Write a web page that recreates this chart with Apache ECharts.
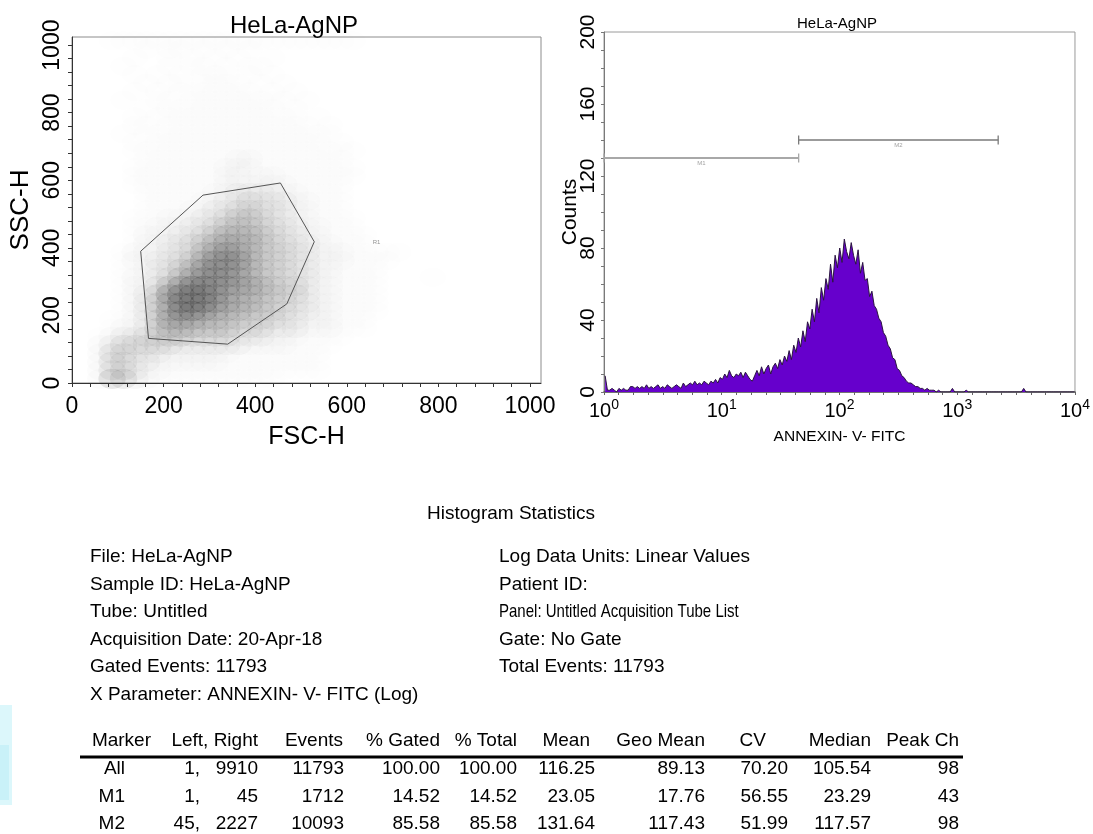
<!DOCTYPE html>
<html>
<head>
<meta charset="utf-8">
<script src="https://cdn.jsdelivr.net/npm/echarts@6/dist/echarts.min.js"></script>
<style>html,body{margin:0;padding:0;background:#fff}#c{width:1093px;height:834px}</style>
</head>
<body>
<div id="c"></div>
<script>
// ---------------- data ----------------
const scatterTitle = 'HeLa-AgNP';
const histTitle = 'HeLa-AgNP';
const scatterXName = 'FSC-H';
const scatterYName = 'SSC-H';
const histXName = 'ANNEXIN- V- FITC';
const histYName = 'Counts';
const scatterMax = 1024;          // channel range of FSC / SSC
const scatterLabelStep = 200;     // labelled tick step
const histDecades = 4;            // 10^0 .. 10^4
const histCountMax = 200;

// FSC-H / SSC-H event density.
// one character per 25x25 channel cell (0 = empty ... 9 = densest), top row = SSC 1000-1024
const cellSize = 25;
const densityRows = [
  "0001111111111111111111111",
  "00000010110101010",
  "00000100101010100100",
  "00001000101101011",
  "00000101010111010100",
  "00000010110111101010",
  "00000101011111110101",
  "000010011011111111101",
  "00000010111111111101",
  "0000010111111111111101",
  "00000110111111111111101",
  "00001011111111111111111",
  "000001011111111111111101",
  "0000011111111111111111111",
  "000000111111112211111111",
  "0000011111111222111111111",
  "0000011111111221221111111",
  "000001111111122222211111",
  "000000111111223333221111",
  "000000111112233433322111",
  "000000111122334443322111",
  "0000011122233455433221111",
  "0000011222334555443322111",
  "00000122233456665433221111",
  "00000122334567665443322111",
  "00001222334678765443322211111",
  "0000122334578886544332221111",
  "000011233568887654433221111",
  "00001223467888765443322111100001",
  "000012246899887765443221111",
  "000012358999876655443221111",
  "000012357999876654433221111",
  "000012357998766554433221111",
  "00011235777665544433222111",
  "00012235666555444333222111",
  "001233445544443332221111",
  "00234444433333322221111",
  "0024433322222211111111",
  "0024433222222111111111",
  "0024432211111111111111",
  "002653211111111111"
];

// R1 gate polygon (FSC, SSC)
const gateFSC = [150, 286, 455, 529, 469, 340, 167];
const gateSSC = [390, 556, 592, 418, 234, 115, 132];
const gateName = 'R1';
const gateLabelFSC = 665;
const gateLabelSSC = 417;

// ANNEXIN-V-FITC histogram, counts per group of 5 channels (256 channels per decade)
const channelsPerBin = 5;
const channelsPerDecade = 256;
const histCounts = [
  9,1,1,2,1,0,2,1,2,1,
  1,3,3,2,3,2,3,2,4,2,
  3,2,3,4,2,3,2,4,3,2,
  3,4,3,2,5,3,4,5,4,6,
  4,5,4,6,5,4,6,5,7,5,
  8,7,10,8,12,9,8,10,9,11,
  8,11,9,7,6,9,12,9,14,10,
  13,15,10,14,16,13,18,15,20,17,
  23,18,26,22,30,25,34,28,39,35,
  46,39,52,44,58,51,63,57,71,61,
  76,69,80,72,85,78,74,83,76,71,
  79,66,72,62,63,53,56,48,46,41,
  39,33,31,26,24,19,18,13,12,9,
  8,6,5,5,4,3,3,2,2,1,
  2,1,1,1,0,1,0,0,0,0,
  0,2,0,0,0,0,0,1,0,0,
  0,0,0,0,0,0,0,0,0,0,
  0,0,0,0,0,0,0,0,0,0,
  0,0,2,0,0,0,0,0,0,0,
  0,0,0,0,0,0,0,0,0,0,
  0,0,0,0,0
];

// histogram markers
const markerNames = ['M1', 'M2'];
const markerLeft = [1, 45];
const markerRight = [45, 2227];
const markerCounts = [130, 140];

// statistics text
const statsTitle = 'Histogram Statistics';
const infoLeft = ['File: HeLa-AgNP', 'Sample ID: HeLa-AgNP', 'Tube: Untitled',
  'Acquisition Date: 20-Apr-18', 'Gated Events: 11793', 'X Parameter: ANNEXIN- V- FITC (Log)'];
const infoRight = ['Log Data Units: Linear Values', 'Patient ID:', 'Panel: Untitled Acquisition Tube List',
  'Gate: No Gate', 'Total Events: 11793'];
const tableHeader = ['Marker', 'Left, Right', 'Events', '% Gated', '% Total', 'Mean', 'Geo Mean', 'CV', 'Median', 'Peak Ch'];
const tableMarker = ['All', 'M1', 'M2'];
const tableLeft = [1, 1, 45];
const tableRight = [9910, 45, 2227];
const tableEvents = [11793, 1712, 10093];
const tableGated = ['100.00', '14.52', '85.58'];
const tableTotal = ['100.00', '14.52', '85.58'];
const tableMean = ['116.25', '23.05', '131.64'];
const tableGeoMean = ['89.13', '17.76', '117.43'];
const tableCV = ['70.20', '56.55', '51.99'];
const tableMedian = ['105.54', '23.29', '117.57'];
const tablePeak = [98, 43, 98];

// ---------------- layout / style ----------------
const SANS = "'Liberation Sans',Arial,Helvetica,sans-serif";
const SC = {left: 72, top: 37, width: 469, height: 346};
const HG = {left: 604, top: 32, width: 478, height: 360};

const chart = echarts.init(document.getElementById('c'), null, {renderer: 'canvas'});

// density cells -> soft scatter blobs
const nCols = Math.ceil(scatterMax / cellSize) + 1;
const cellW = SC.width / scatterMax * cellSize;
const cellH = SC.height / scatterMax * cellSize;
const blobScale = 2.4;
const levelOpacity = [0, 0.004, 0.011, 0.026, 0.046, 0.066, 0.087, 0.11, 0.135, 0.165];
const levelData = levelOpacity.map(() => []);
densityRows.forEach((row, k) => {
  const r = densityRows.length - 1 - k;
  const s = row.padEnd(nCols, '0').slice(0, nCols);
  for (let c = 0; c < s.length; c++) {
    const L = +s[c];
    if (L > 0) levelData[L].push([c * cellSize + cellSize / 2, r * cellSize + cellSize / 2]);
  }
});
const densitySeries = [];
levelData.forEach((d, L) => {
  if (L === 0) return;
  densitySeries.push({
    type: 'scatter', xAxisIndex: 0, yAxisIndex: 0, data: d, silent: true, z: 2,
    symbol: 'circle', symbolSize: [cellW * blobScale, cellH * blobScale],
    itemStyle: {color: '#000', opacity: levelOpacity[L]}
  });
});

const gateData = gateFSC.map((x, i) => [x, gateSSC[i]]);
gateData.push([gateFSC[0], gateSSC[0]]);

const histData = histCounts.map((v, i) => [(i * channelsPerBin + channelsPerBin / 2) / channelsPerDecade, v]);

const markerSeries = [];
markerNames.forEach((n, i) => {
  const a = Math.log10(markerLeft[i]), b = Math.log10(markerRight[i]);
  const col = i === 0 ? '#a8a8a8' : '#7a7a7a';
  markerSeries.push({
    type: 'line', xAxisIndex: 1, yAxisIndex: 1, silent: true, z: 6,
    data: [[a, markerCounts[i]], [b, markerCounts[i]]],
    symbol: 'rect', symbolSize: [1.3, 9], showSymbol: true,
    itemStyle: {color: col}, lineStyle: {color: col, width: i === 0 ? 2.2 : 1.4}
  });
  markerSeries.push({
    type: 'scatter', xAxisIndex: 1, yAxisIndex: 1, silent: true, z: 6,
    data: [[(a + b) / 2, markerCounts[i]]], symbolSize: 0.1,
    label: {show: true, formatter: n, position: 'bottom', distance: 2, fontSize: 6, color: '#888', fontFamily: SANS}
  });
});

const axisDark = '#333';
const scatterAxisLabel = {fontSize: 23, fontFamily: SANS, color: '#000', showMaxLabel: false,
  formatter: v => (v % scatterLabelStep === 0 ? String(v) : '')};

// ---------------- graphic text ----------------
const g = [];
function txt(text, x, y, align, size, sx) {
  g.push({type: 'text', silent: true, x: x, y: y, scaleX: sx || 1, scaleY: 1, originX: 0, originY: 0,
    style: {text: text, x: 0, y: 0, fill: '#000', fontSize: size || 19, fontFamily: SANS,
      align: align || 'left', verticalAlign: 'middle', textAlign: align || 'left', textVerticalAlign: 'middle'}});
}
// left edge cyan artefact
g.push({type: 'rect', silent: true, shape: {x: 0, y: 705, width: 12, height: 100}, style: {fill: '#dcf7fb'}});
g.push({type: 'rect', silent: true, shape: {x: 0, y: 745, width: 9, height: 55}, style: {fill: '#c9f1f8'}});

txt(statsTitle, 511, 514, 'center');
infoLeft.forEach((t, i) => txt(t, 90, 557 + i * 27.5, 'left'));
infoRight.forEach((t, i) => txt(t, 499, 557 + i * 27.5, 'left', 19, i === 2 ? 0.79 : 1));

const headerRight = [151, 258, 343, 440, 517, 590, 705, 766, 871, 959];
tableHeader.forEach((t, i) => txt(t, headerRight[i], 741, 'right'));
g.push({type: 'line', silent: true, shape: {x1: 80, y1: 757, x2: 963, y2: 757}, style: {stroke: '#000', lineWidth: 3}});
const colRight = {marker: 125, left: 200, right: 258, events: 344, gated: 440, total: 517, mean: 595, geo: 705, cv: 788, median: 871, peak: 959};
tableMarker.forEach((m, i) => {
  const y = 769 + i * 27.5;
  txt(m, colRight.marker, y, 'right');
  txt(tableLeft[i] + ',', colRight.left, y, 'right');
  txt(String(tableRight[i]), colRight.right, y, 'right');
  txt(String(tableEvents[i]), colRight.events, y, 'right');
  txt(tableGated[i], colRight.gated, y, 'right');
  txt(tableTotal[i], colRight.total, y, 'right');
  txt(tableMean[i], colRight.mean, y, 'right');
  txt(tableGeoMean[i], colRight.geo, y, 'right');
  txt(tableCV[i], colRight.cv, y, 'right');
  txt(tableMedian[i], colRight.median, y, 'right');
  txt(String(tablePeak[i]), colRight.peak, y, 'right');
});

// ---------------- option ----------------
const option = {
  animation: false,
  backgroundColor: '#fff',
  title: [
    {text: scatterTitle, left: 289, top: 9, textAlign: 'center',
      textStyle: {fontSize: 24, fontWeight: 'normal', fontFamily: SANS, color: '#000'}},
    {text: histTitle, left: 832, top: 11, textAlign: 'center',
      textStyle: {fontSize: 15, fontWeight: 'normal', fontFamily: SANS, color: '#000'}}
  ],
  grid: [
    Object.assign({show: true, borderColor: '#8c8c8c', borderWidth: 1, containLabel: false}, SC),
    Object.assign({show: true, borderColor: '#9a9a9a', borderWidth: 1, containLabel: false}, HG)
  ],
  xAxis: [
    {type: 'value', gridIndex: 0, min: 0, max: scatterMax, interval: 40,
      name: scatterXName, nameLocation: 'middle', nameGap: 42, nameMoveOverlap: false,
      nameTextStyle: {fontSize: 25, fontFamily: SANS, color: '#000'},
      axisLine: {show: true, onZero: false, lineStyle: {color: axisDark, width: 1}},
      axisTick: {show: true, length: 4, lineStyle: {color: axisDark}},
      axisLabel: Object.assign({margin: 12}, scatterAxisLabel),
      splitLine: {show: false}},
    {type: 'value', gridIndex: 1, min: 0, max: histDecades, interval: 0.125,
      name: histXName, nameLocation: 'middle', nameGap: 37, nameMoveOverlap: false,
      nameTextStyle: {fontSize: 15.5, fontFamily: SANS, color: '#000'},
      axisLine: {show: true, onZero: false, lineStyle: {color: '#555', width: 1.5}},
      axisTick: {show: true, length: 3, lineStyle: {color: '#666'}},
      axisLabel: {margin: 6, color: '#000',
        formatter: v => (Math.abs(v - Math.round(v)) < 1e-9 ? '{b|10}{s|' + Math.round(v) + '}' : ''),
        rich: {b: {fontSize: 20, fontFamily: SANS, color: '#000'},
               s: {fontSize: 14, fontFamily: SANS, color: '#000', padding: [0, 0, 12, 0]}}},
      splitLine: {show: false}}
  ],
  yAxis: [
    {type: 'value', gridIndex: 0, min: 0, max: scatterMax, interval: 40,
      name: scatterYName, nameLocation: 'middle', nameGap: 38, nameRotate: 90, nameMoveOverlap: false,
      nameTextStyle: {fontSize: 26, fontFamily: SANS, color: '#000'},
      axisLine: {show: true, onZero: false, lineStyle: {color: axisDark, width: 1}},
      axisTick: {show: true, length: 4, lineStyle: {color: axisDark}},
      axisLabel: Object.assign({margin: 8, rotate: 90}, scatterAxisLabel),
      splitLine: {show: false}},
    {type: 'value', gridIndex: 1, min: 0, max: histCountMax, interval: 10,
      name: histYName, nameLocation: 'middle', nameGap: 23, nameRotate: 90, nameMoveOverlap: false,
      nameTextStyle: {fontSize: 21, fontFamily: SANS, color: '#000'},
      axisLine: {show: true, onZero: false, lineStyle: {color: '#7a7a7a', width: 1}},
      axisTick: {show: true, length: 3, lineStyle: {color: '#777'}},
      axisLabel: {margin: 5, rotate: 90, fontSize: 21, fontFamily: SANS, color: '#000',
        formatter: v => (v % 40 === 0 ? String(v) : '')},
      splitLine: {show: false}}
  ],
  series: densitySeries.concat([
    {type: 'line', xAxisIndex: 0, yAxisIndex: 0, data: gateData, symbol: 'none', silent: true, z: 5,
      lineStyle: {color: '#555', width: 1}},
    {type: 'scatter', xAxisIndex: 0, yAxisIndex: 0, data: [[gateLabelFSC, gateLabelSSC]], symbolSize: 0.1, silent: true, z: 5,
      label: {show: true, formatter: gateName, position: 'inside', fontSize: 6, color: '#777', fontFamily: SANS}},
    {type: 'line', xAxisIndex: 1, yAxisIndex: 1, data: histData, symbol: 'none', silent: true, z: 3,
      lineStyle: {color: '#2b1540', width: 1},
      areaStyle: {color: '#6600cc', opacity: 1}}
  ], markerSeries),
  graphic: g
};
chart.setOption(option);
</script>
</body>
</html>
